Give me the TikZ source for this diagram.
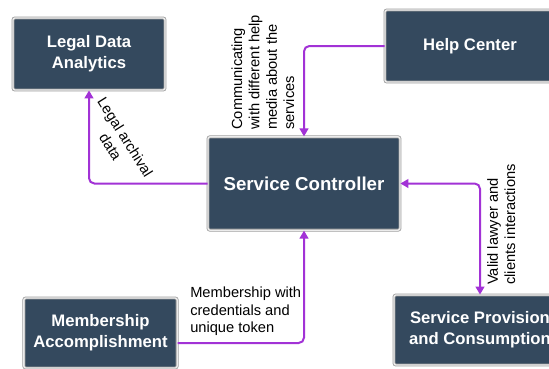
\documentclass[tikz,border=0pt]{standalone}
\usepackage{fontspec}
\setmainfont{Liberation Sans}
\usetikzlibrary{arrows.meta}

\definecolor{slate}{RGB}{52,73,94}
\definecolor{flowpurple}{RGB}{162,50,214}

\tikzset{
  unit/.style={draw=gray!75, double=gray!15, double distance=1pt, line width=0.6pt,
    fill=slate, rounded corners=1.5pt, text=white, align=center,
    font=\fontsize{12.5}{15.5}\selectfont\bfseries},
  flow/.style={draw=flowpurple, line width=1.5pt, rounded corners=4pt},
  lbl/.style={inner sep=0pt, font=\fontsize{11}{13}\selectfont},
  >={Triangle[length=6pt,width=6.5pt]}
}

\begin{document}
\begin{tikzpicture}[x=0.75pt,y=-0.75pt]
    \clip (0,0) rectangle (549,368);
    \fill[white] (0,0) rectangle (549,368);

    % boxes
    \node[unit, minimum width=114pt, minimum height=54pt] (analytics) at (89,54) {Legal Data\\Analytics};
    \node[unit, minimum width=127.5pt, minimum height=54pt] (help) at (470,46) {Help Center};
    \node[unit, minimum width=144pt, minimum height=70pt, font=\fontsize{14}{16}\selectfont\bfseries] (controller) at (304,183.5) {Service Controller};
    \node[unit, minimum width=115pt, minimum height=52.5pt] (member) at (100.5,333) {Membership\\Accomplishment};
    \node[unit, minimum width=129pt, minimum height=52.5pt] (provision) at (480,330) {Service Provision\\and Consumption};

    % connectors
    \draw[flow, ->] (controller.west) -| (analytics.south);
    \draw[flow, ->] (help.west) -| (controller.north);
    \draw[flow, ->] ([yshift=-7.5pt]member.east) -| (controller.south);
    \draw[flow, <->] (controller.east) -| (provision.north);

    % labels
    \node[lbl, align=center, rotate=-58] (archival) at (118,142) {Legal archival\\data};
    \node[lbl, align=left, rotate=90, anchor=south west] (helpmedia) at (294.5,130)
        {Communicating\\with different help\\media about the\\services};
    \node[lbl, align=left, anchor=north west] (token) at (190,287)
        {Membership with\\credentials and\\unique token};
    \node[lbl, align=left, rotate=90, anchor=south west] (interact) at (515.5,285)
        {Valid lawyer and\\clients interactions};
\end{tikzpicture}
\end{document}
